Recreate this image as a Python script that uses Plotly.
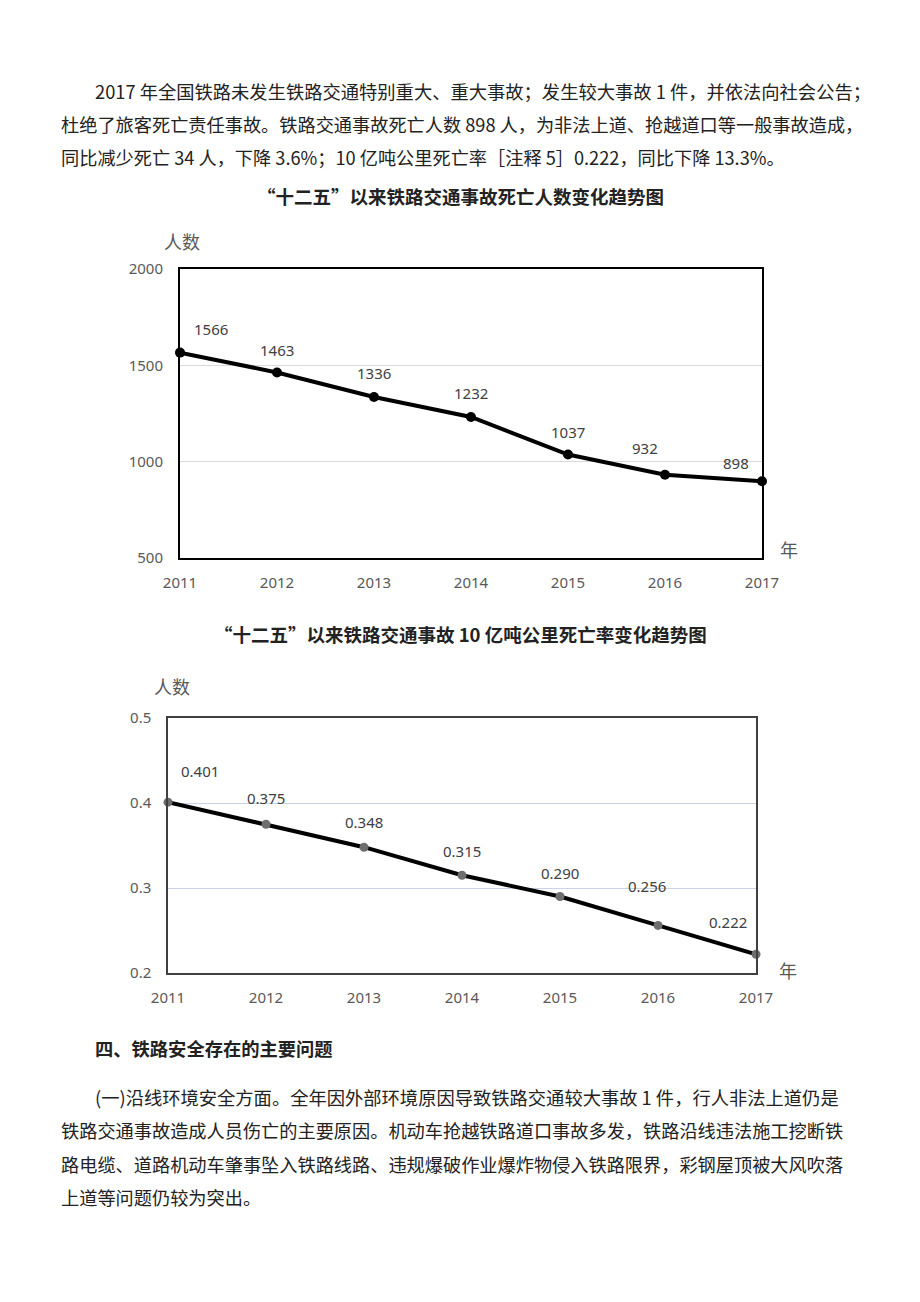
import plotly.graph_objects as go

W, H = 920, 1302

years = [2011, 2012, 2013, 2014, 2015, 2016, 2017]
deaths = [1566, 1463, 1336, 1232, 1037, 932, 898]
rate = [0.401, 0.375, 0.348, 0.315, 0.290, 0.256, 0.222]
rate_labels = ["0.401", "0.375", "0.348", "0.315", "0.290", "0.256", "0.222"]

y1_ticks = [500, 1000, 1500, 2000]
y2_ticks = [0.2, 0.3, 0.4, 0.5]
y2_ticktext = ["0.2", "0.3", "0.4", "0.5"]

title1 = "“十二五”以来铁路交通事故死亡人数变化趋势图"
title2 = "“十二五”以来铁路交通事故 10 亿吨公里死亡率变化趋势图"
para1 = [
    "2017 年全国铁路未发生铁路交通特别重大、重大事故；发生较大事故 1 件，并依法向社会公告；",
    "杜绝了旅客死亡责任事故。铁路交通事故死亡人数 898 人，为非法上道、抢越道口等一般事故造成，",
    "同比减少死亡 34 人，下降 3.6%；10 亿吨公里死亡率［注释 5］0.222，同比下降 13.3%。",
]
heading = "四、铁路安全存在的主要问题"
para2 = [
    "(一)沿线环境安全方面。全年因外部环境原因导致铁路交通较大事故 1 件，行人非法上道仍是",
    "铁路交通事故造成人员伤亡的主要原因。机动车抢越铁路道口事故多发，铁路沿线违法施工挖断铁",
    "路电缆、道路机动车肇事坠入铁路线路、违规爆破作业爆炸物侵入铁路限界，彩钢屋顶被大风吹落",
    "上道等问题仍较为突出。",
]

# label offsets in pixels (style only)
off1 = [(31, 24), (0, 22), (0, 24), (0, 24), (0, 23), (-20, 27), (-26, 18)]
off2 = [(32, 31), (0, 26), (0, 25), (0, 24), (0, 24), (-11, 39), (-28, 32)]

def px(x):
    return x / W

def py(y):
    return 1 - y / H

TXT = "Noto Sans CJK SC"
NUM = "Noto Sans, Noto Sans CJK SC"
GRAY = "#595959"

fig = go.Figure()
fig.add_trace(go.Scatter(
    x=years, y=deaths, mode="lines+markers", xaxis="x", yaxis="y",
    line=dict(color="black", width=4),
    marker=dict(color="black", size=10), cliponaxis=False, showlegend=False))
fig.add_trace(go.Scatter(
    x=years, y=rate, mode="lines+markers", xaxis="x2", yaxis="y2",
    line=dict(color="black", width=4),
    marker=dict(color="#6e6e6e", size=9), cliponaxis=False, showlegend=False))

ann = []
for yr, v, (dx, dy) in zip(years, deaths, off1):
    ann.append(dict(x=yr, y=v, xref="x", yref="y", text=str(v), showarrow=False,
                    xshift=dx, yshift=dy, font=dict(family=NUM, size=15, color="#404040")))
for yr, v, t, (dx, dy) in zip(years, rate, rate_labels, off2):
    ann.append(dict(x=yr, y=v, xref="x2", yref="y2", text=t, showarrow=False,
                    xshift=dx, yshift=dy, font=dict(family=NUM, size=15, color="#404040")))

def text_line(x, y, s, size=18.2, bold=False, anchor="left", color="#222222"):
    if bold:
        s = "<b>" + s + "</b>"
    ann.append(dict(x=px(x), y=py(y), xref="paper", yref="paper", text=s, showarrow=False,
                    xanchor=anchor, yanchor="middle",
                    font=dict(family=TXT, size=size, color=color)))

text_line(93, 91, para1[0], size=18.3)
text_line(59, 124, para1[1])
text_line(59, 157, para1[2])
text_line(460, 196, title1, size=18.5, bold=True, anchor="center")
text_line(460, 634, title2, size=18.5, bold=True, anchor="center")
text_line(93, 1048, heading, size=18.3, bold=True)
text_line(93, 1097, para2[0], size=18.3)
for i, s in enumerate(para2[1:]):
    text_line(59, 1130 + 33.5 * i, s)

text_line(182, 241, "人数", size=18, anchor="center", color=GRAY)
text_line(789, 549, "年", size=18, anchor="center", color=GRAY)
text_line(172, 686, "人数", size=18, anchor="center", color=GRAY)
text_line(788, 970, "年", size=18, anchor="center", color=GRAY)

xax = dict(range=[2011, 2017], tickvals=years, ticktext=[str(y) for y in years],
           showgrid=False, zeroline=False, mirror=True, showline=True, automargin=False,
           ticks="", tickfont=dict(family=NUM, size=15, color=GRAY),
           ticklabelstandoff=10, fixedrange=True)
fig.update_layout(
    template="none",
    width=W, height=H, margin=dict(l=0, r=0, t=0, b=0, pad=0, autoexpand=False),
    paper_bgcolor="white", plot_bgcolor="white",
    xaxis=dict(xax, domain=[px(180), px(762)], anchor="y", linecolor="black", linewidth=2),
    yaxis=dict(domain=[py(558), py(269)], anchor="x", range=[500, 2000], tickvals=y1_ticks,
               showgrid=True, gridcolor="#d9d9d9", gridwidth=1, zeroline=False, automargin=False,
               showline=True, mirror=True, linecolor="black", linewidth=2, ticks="",
               tickfont=dict(family=NUM, size=15, color=GRAY), ticklabelstandoff=12),
    xaxis2=dict(xax, domain=[px(168), px(756)], anchor="y2", linecolor="#404040", linewidth=1.5),
    yaxis2=dict(domain=[py(973), py(718)], anchor="x2", range=[0.2, 0.5], tickvals=y2_ticks,
                ticktext=y2_ticktext,
                showgrid=True, gridcolor="#c9d3e6", gridwidth=1, zeroline=False, automargin=False,
                showline=True, mirror=True, linecolor="#404040", linewidth=1.5, ticks="",
                tickfont=dict(family=NUM, size=15, color=GRAY), ticklabelstandoff=12),
    annotations=ann,
)

fig.write_html("out.html")
